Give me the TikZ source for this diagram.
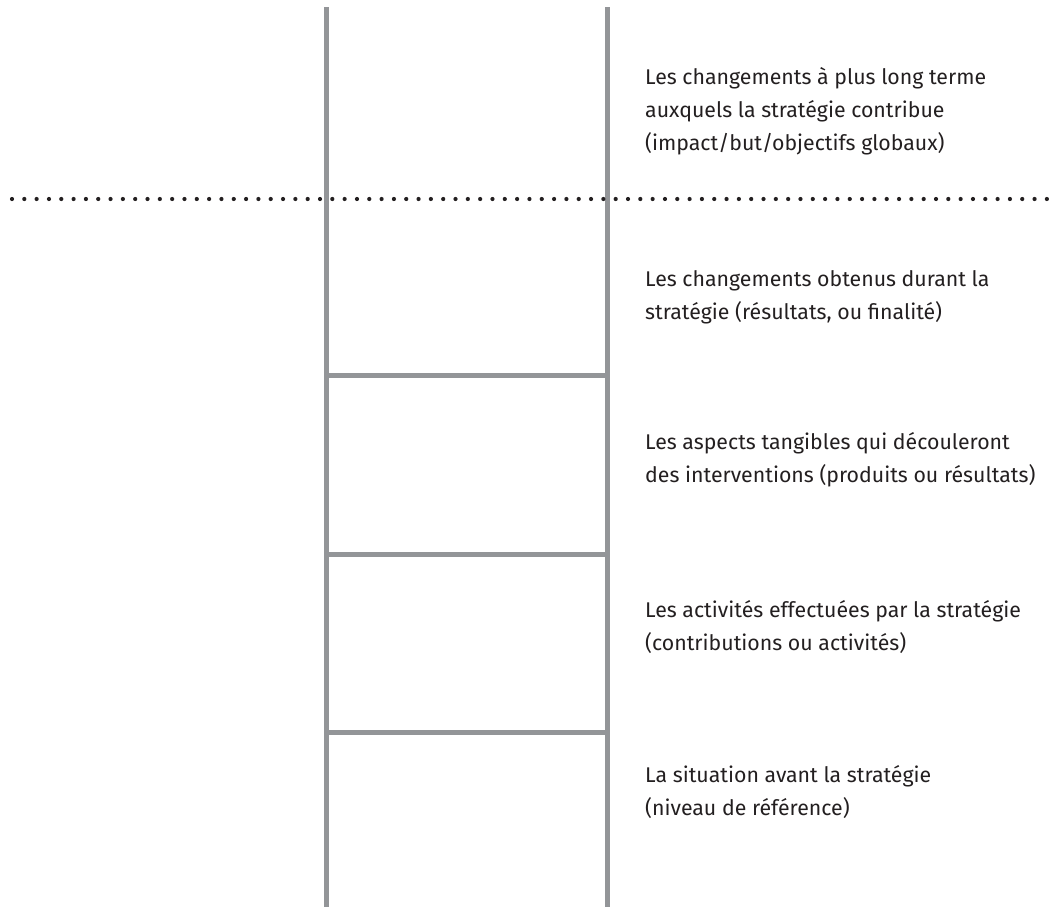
\documentclass[tikz,border=0pt]{standalone}
\usepackage{fontspec}
\setmainfont{Fira Sans}
\definecolor{railgray}{RGB}{147,149,152}
\definecolor{inkdark}{RGB}{35,31,32}
\begin{document}
\begin{tikzpicture}[x=1pt,y=-1pt,
  rail/.style={draw=railgray,line width=5pt},
  dotline/.style={draw=inkdark,line width=4.2pt,line cap=round,dash pattern=on 0pt off 12.32pt},
  label/.style={anchor=west,inner sep=0pt,align=left,text=inkdark,
    font=\fontsize{21.3}{33}\selectfont}]
  \useasboundingbox (0,0) rectangle (1053,911);
  % ladder rails
  \coordinate (lt) at (326,7);   \coordinate (lb) at (326,907);
  \coordinate (rt) at (607,7);   \coordinate (rb) at (607,907);
  \draw[rail] (lt) -- (lb);
  \draw[rail] (rt) -- (rb);
  % rungs
  \foreach \y in {375,554,732}
    \draw[rail] (326,\y) -- (607,\y);
  % dotted boundary across the whole width
  \coordinate (dl) at (12,199);
  \coordinate (dr) at (1047,199);
  \draw[dotline] (dl) -- (dr);
  % level descriptions
  \node[label] (t1) at (645,111) {Les changements à plus long terme\\auxquels la stratégie contribue\\(impact/but/objectifs globaux)};
  \node[label] (t2) at (645,297) {Les changements obtenus durant la\\stratégie (résultats, ou finalité)};
  \node[label] (t3) at (645,460) {Les aspects tangibles qui découleront\\des interventions (produits ou résultats)};
  \node[label] (t4) at (645,627) {Les activités effectuées par la stratégie\\(contributions ou activités)};
  \node[label] (t5) at (645,792) {La situation avant la stratégie\\(niveau de référence)};
\end{tikzpicture}
\end{document}
